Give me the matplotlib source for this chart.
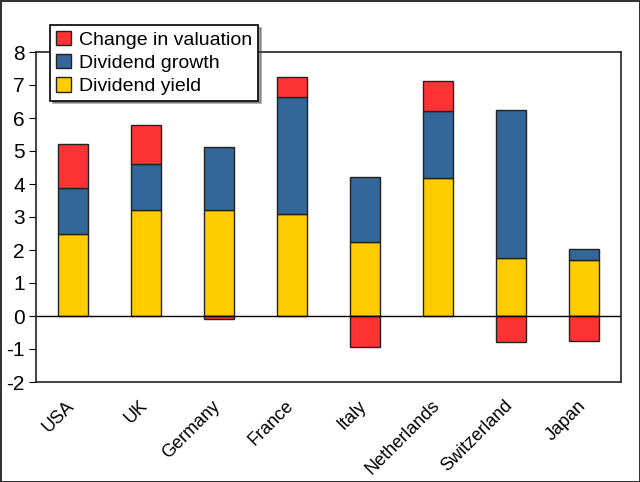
import matplotlib.pyplot as plt
import matplotlib.transforms as mtransforms
import numpy as np

# data
countries = ['USA', 'UK', 'Germany', 'France', 'Italy', 'Netherlands', 'Switzerland', 'Japan']
dividend_yield = [2.5, 3.2, 3.2, 3.1, 2.25, 4.18, 1.75, 1.7]
dividend_growth = [1.37, 1.42, 1.93, 3.55, 1.95, 2.04, 4.5, 0.33]
change_valuation = [1.33, 1.16, -0.1, 0.6, -0.95, 0.9, -0.8, -0.75]

plt.rcParams['font.family'] = ['Liberation Sans', 'DejaVu Sans']
plt.rcParams['axes.unicode_minus'] = False

fig = plt.figure(figsize=(6.4, 4.82), dpi=100)
fig.patch.set_edgecolor('#333333')
fig.patch.set_linewidth(2)
ax = fig.add_axes([36/640, 1 - 382/482, 585/640, 330/482])

x = np.arange(len(countries))
yld = np.array(dividend_yield)
grw = np.array(dividend_growth)
val = np.array(change_valuation)
w = 0.41

b1 = ax.bar(x, yld, w, color='#FFCC00', edgecolor='#222222', linewidth=1, label='Dividend yield')
b2 = ax.bar(x, grw, w, bottom=yld, color='#336699', edgecolor='#222222', linewidth=1, label='Dividend growth')
val_bottom = np.where(val >= 0, yld + grw, 0)
b3 = ax.bar(x, val, w, bottom=val_bottom, color='#FF3333', edgecolor='#222222', linewidth=1, label='Change in valuation')

ax.axhline(0, color='black', linewidth=1)
ax.set_xlim(-0.5, 7.5)
ax.set_ylim(-2, 8)
ax.set_yticks(range(-2, 9))
ax.tick_params(axis='y', direction='out', length=5, labelsize=15, pad=3)
ax.set_xticks(x)
ax.set_xticklabels(countries, rotation=45, ha='right', rotation_mode='anchor', fontsize=13)
ax.tick_params(axis='x', length=0, pad=11)
shift = mtransforms.ScaledTranslation(-7/100, 0, fig.dpi_scale_trans)
for lab in ax.get_xticklabels():
    lab.set_transform(lab.get_transform() + shift)
for s in ax.spines.values():
    s.set_color('#222222')
    s.set_linewidth(1.2)

leg = fig.legend([b3, b2, b1], ['Change in valuation', 'Dividend growth', 'Dividend yield'],
                 loc='upper left', bbox_to_anchor=(40/640, 1 - 15/482), fontsize=14,
                 handlelength=0.8, handleheight=0.8, handletextpad=0.4, labelspacing=0.25,
                 borderpad=0.3, fancybox=False, shadow=True, framealpha=1)
leg.get_frame().set_edgecolor('black')
leg.get_frame().set_linewidth(1.2)

plt.savefig('out.png', dpi=100)
